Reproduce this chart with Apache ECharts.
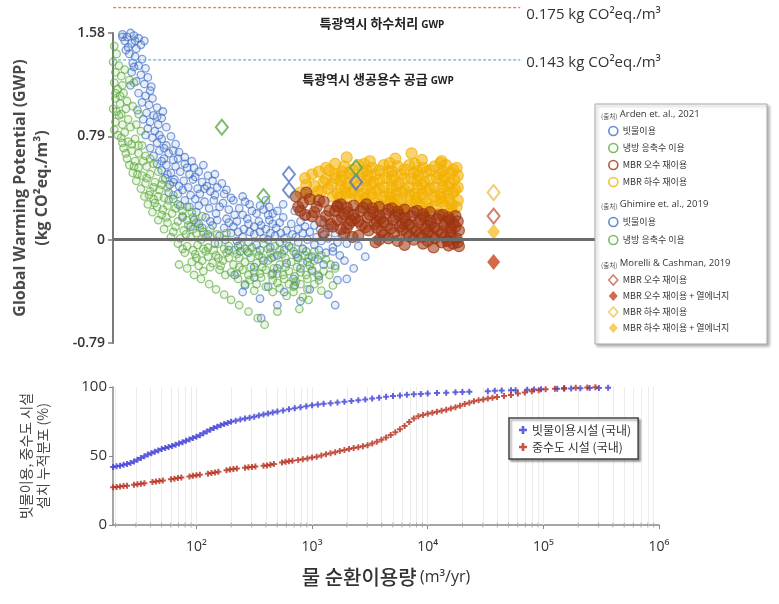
<!DOCTYPE html>
<html>
<head>
<meta charset="utf-8">
<script src="https://cdn.jsdelivr.net/npm/echarts@6/dist/echarts.min.js"></script>
<style>
html,body{margin:0;padding:0;background:#fff}
#chart{width:779px;height:604px}
</style>
</head>
<body>
<div id="chart"></div>
<script>
const FONT = "'Open Sans','Noto Sans CJK KR',sans-serif";
const KFONT = "'Noto Sans CJK KR','Open Sans',sans-serif";

// Shared flow range of both panels (m3/yr)
const qMin = 19;
const qMax = 1e6;
const gwpMin = -0.79, gwpMax = 1.58, gwpStep = 0.79;

// Arden et al. 2021 — each point is [log10 flow (m3/yr), GWP (kg CO2eq./m3)]
const ardenRain = [
[1.36,1.57],[1.40,1.55],[1.43,1.58],[1.46,1.56],[1.50,1.54],[1.38,1.52],[1.44,1.50],[1.52,1.49],[1.48,1.46],[1.41,1.47],[1.55,1.52],[1.39,1.45],[1.47,1.52],[1.36,1.55],
[1.42,1.42],[1.47,1.40],[1.53,1.38],[1.45,1.35],[1.50,1.33],[1.56,1.31],[1.44,1.28],[1.52,1.26],[1.58,1.24],[1.48,1.21],[1.55,1.19],[1.61,1.17],[1.43,1.18],[1.46,1.32],[1.60,1.14],
[1.50,1.12],[1.56,1.10],[1.62,1.08],[1.53,1.05],[1.59,1.03],[1.66,1.01],[1.49,0.99],[1.57,0.97],[1.63,0.95],[1.70,0.93],[1.54,0.92],[1.60,0.90],[1.67,0.88],[1.74,0.86],[1.58,0.85],[1.64,0.83],[1.66,0.94],[1.71,0.98],
[1.56,0.80],[1.62,0.78],[1.70,0.77],[1.78,0.79],[1.66,0.74],[1.74,0.72],[1.82,0.73],[1.60,0.70],[1.68,0.68],[1.76,0.66],[1.85,0.67],[1.63,0.64],[1.72,0.62],[1.80,0.61],[1.90,0.63],[1.68,0.80],[1.72,0.70],[1.80,0.68],
[1.66,0.58],[1.74,0.57],[1.82,0.56],[1.90,0.58],[1.98,0.55],[1.70,0.53],[1.78,0.51],[1.86,0.52],[1.94,0.50],[2.02,0.52],[2.10,0.49],[1.73,0.47],[1.81,0.46],[1.89,0.45],[1.97,0.46],[2.05,0.44],[2.14,0.45],[1.77,0.42],[1.85,0.41],[1.93,0.40],[2.01,0.39],[2.09,0.41],[2.18,0.40],[1.88,0.38],[2.12,0.37],
[1.70,0.60],[1.84,0.62],[1.96,0.60],[1.92,0.55],[2.06,0.57],[1.75,0.50],[1.99,0.48],[2.16,0.50],[2.22,0.43],[1.80,0.44],[2.07,0.39],[2.26,0.38],
[1.76,0.36],[1.84,0.35],[1.95,0.34],[2.03,0.35],[2.16,0.34],[2.24,0.35],[1.80,0.31],[1.90,0.30],[1.99,0.31],[2.07,0.29],[2.15,0.30],[2.23,0.28],[2.32,0.30],[2.42,0.29],[1.86,0.26],[1.94,0.25],[2.02,0.26],[2.11,0.24],[2.20,0.25],[2.28,0.23],[2.37,0.24],[2.48,0.22],[2.58,0.23],[2.00,0.21],[2.17,0.20],[2.33,0.19],[2.52,0.20],[2.60,0.30],[2.75,0.27],[2.85,0.22],[2.95,0.18],[2.66,0.20],
[2.30,0.32],[2.40,0.33],[2.46,0.27],[2.55,0.26],[2.63,0.25],[2.70,0.22],[2.40,0.19],[2.62,0.19],[2.75,0.17],
[1.88,0.17],[1.98,0.15],[2.08,0.17],[2.18,0.15],[2.26,0.16],[2.35,0.14],[2.44,0.16],[2.54,0.14],[2.63,0.15],[2.72,0.13],[2.90,0.14],[3.10,0.13],[1.95,0.10],[2.05,0.09],[2.14,0.11],[2.24,0.09],[2.32,0.10],[2.41,0.08],[2.50,0.10],[2.60,0.08],[2.69,0.09],[2.78,0.07],[2.88,0.08],[2.98,0.06],[3.07,0.08],[3.20,0.05],
[2.82,0.12],[2.94,0.10],[3.02,0.11],[3.15,0.09],[2.45,0.12],[2.56,0.11],[2.66,0.12],[2.28,0.13],[2.12,0.14],[2.02,0.12],
[2.10,0.04],[2.20,0.03],[2.30,0.05],[2.40,0.02],[2.50,0.04],[2.58,0.01],[2.68,0.03],[2.76,0.01],[2.86,0.02],[2.96,0.00],[3.04,0.02],[3.14,0.01],[3.26,0.03],
[2.36,0.06],[2.46,0.06],[2.55,0.06],[2.64,0.05],[2.73,0.05],[2.83,0.04],[2.92,0.05],[3.10,0.04],[2.25,0.00],[2.35,-0.01],[2.45,-0.02],[2.62,0.00],[2.72,-0.02],[2.88,-0.02],[3.08,-0.01],[3.22,-0.02],
[2.16,-0.03],[2.36,-0.05],[2.52,-0.04],[2.64,-0.06],[2.80,-0.05],[2.92,-0.07],[3.02,-0.04],[3.18,-0.06],[3.30,-0.03],[2.45,-0.10],[2.70,-0.12],[2.86,-0.11],[3.00,-0.13],[3.12,-0.10],[3.24,-0.12],[2.58,-0.16],[2.78,-0.18],[2.96,-0.17],[3.10,-0.19],[3.28,-0.16],[2.90,-0.22],
[2.28,-0.08],[2.38,-0.09],[2.55,-0.08],[2.76,-0.08],[2.95,-0.09],[3.06,-0.08],[3.18,-0.09],[2.65,-0.14],[2.88,-0.14],[3.05,-0.15],[3.20,-0.20],[2.70,-0.22],[2.50,-0.21],[3.00,-0.24],
[2.33,-0.27],[2.50,-0.29],[2.66,-0.26],[2.84,-0.30],[3.06,-0.28],[3.22,-0.31],[2.42,-0.35],[2.62,-0.36],[2.76,-0.40],[2.98,-0.38],[3.14,-0.42],[2.55,-0.45],[2.90,-0.47],[2.70,-0.50],[2.56,-0.60],[3.40,-0.05],[3.46,-0.13],[3.36,-0.22],[3.20,-0.50],[2.40,-0.40],[2.85,-0.35],[3.30,-0.30]
];
const ardenCond = [
[1.29,1.48],[1.31,1.42],[1.28,1.36],[1.33,1.33],[1.30,1.28],[1.35,1.25],[1.29,1.20],[1.32,1.15],[1.37,1.12],[1.30,1.08],[1.34,1.04],[1.28,1.00],[1.39,1.00],[1.33,0.95],[1.30,0.90],[1.36,0.88],[1.41,0.92],[1.29,0.84],
[1.30,1.12],[1.34,1.10],[1.31,0.98],[1.35,0.96],[1.32,0.80],[1.36,0.74],[1.39,0.66],[1.44,0.73],[1.50,0.72],
[1.40,1.06],[1.45,1.02],[1.38,0.82],[1.43,0.86],[1.48,0.88],[1.52,0.83],[1.35,0.78],[1.41,0.75],[1.47,0.77],[1.53,0.72],[1.37,0.70],[1.44,0.68],[1.50,0.66],[1.56,0.64],[1.40,0.62],[1.47,0.60],[1.46,1.20],[1.50,0.96],[1.38,1.30],[1.42,1.22],[1.36,1.18],
[1.42,0.57],[1.50,0.55],[1.57,0.56],[1.63,0.58],[1.45,0.51],[1.53,0.49],[1.60,0.50],[1.67,0.52],[1.48,0.45],[1.56,0.43],[1.64,0.44],[1.71,0.46],[1.52,0.39],[1.60,0.37],[1.68,0.38],[1.75,0.40],[1.55,0.33],[1.63,0.31],[1.72,0.32],[1.80,0.34],
[1.46,0.56],[1.54,0.60],[1.60,0.62],[1.49,0.50],[1.57,0.47],[1.63,0.40],[1.70,0.42],[1.59,0.34],[1.67,0.33],[1.76,0.30],
[1.58,0.27],[1.66,0.25],[1.75,0.26],[1.84,0.27],[1.62,0.21],[1.70,0.19],[1.79,0.20],[1.88,0.22],[1.96,0.21],[1.67,0.15],[1.75,0.13],[1.84,0.14],[1.92,0.15],[2.00,0.13],[1.72,0.08],[1.80,0.06],[1.89,0.07],[1.97,0.08],[2.06,0.06],[1.78,0.02],[1.86,0.01],[1.95,0.02],[2.04,0.00],[2.12,0.02],
[1.64,0.28],[1.71,0.23],[1.82,0.24],[1.92,0.25],[1.74,0.17],[1.88,0.18],[1.97,0.17],[2.05,0.18],[1.82,0.10],[1.93,0.11],[2.03,0.09],[2.12,0.08],[1.91,0.04],[2.00,0.05],[2.08,0.02],[2.18,0.04],[2.26,0.05],
[1.84,-0.03],[1.92,-0.05],[2.01,-0.04],[2.10,-0.06],[2.19,-0.03],[2.28,-0.05],[2.38,-0.04],[2.48,-0.06],[2.58,-0.03],[2.68,-0.05],[2.78,-0.02],[1.90,-0.10],[1.99,-0.11],[2.08,-0.09],[2.17,-0.12],[2.26,-0.10],[2.35,-0.11],[2.44,-0.09],[2.54,-0.12],[2.64,-0.10],[2.74,-0.11],[2.84,-0.09],[2.94,-0.12],
[1.88,-0.07],[1.97,-0.08],[2.06,-0.07],[2.15,-0.08],[2.24,-0.07],[2.33,-0.08],[2.42,-0.07],[2.52,-0.09],[2.62,-0.07],[2.72,-0.08],[2.82,-0.06],[2.92,-0.07],[3.02,-0.09],
[2.00,-0.14],[2.10,-0.13],[2.19,-0.14],[2.28,-0.14],[2.37,-0.14],[2.47,-0.14],[2.57,-0.14],[2.67,-0.13],[2.77,-0.14],[2.87,-0.13],[2.97,-0.14],[3.08,-0.12],
[1.96,-0.17],[2.05,-0.16],[2.14,-0.18],[2.23,-0.16],[2.32,-0.19],[2.42,-0.17],[2.52,-0.18],[2.62,-0.16],[2.72,-0.19],[2.82,-0.17],[2.92,-0.18],[3.02,-0.16],[3.12,-0.15],
[2.02,-0.20],[2.12,-0.21],[2.21,-0.20],[2.37,-0.21],[2.47,-0.21],[2.57,-0.21],[2.67,-0.22],[2.77,-0.21],[2.87,-0.21],[2.98,-0.20],[3.16,-0.19],
[2.06,-0.24],[2.20,-0.23],[2.30,-0.25],[2.40,-0.23],[2.50,-0.25],[2.60,-0.23],[2.70,-0.26],[2.80,-0.24],[2.90,-0.25],[3.00,-0.23],[3.10,-0.24],[3.20,-0.22],
[2.25,-0.27],[2.35,-0.26],[2.45,-0.27],[2.55,-0.26],[2.65,-0.27],[2.75,-0.27],[2.85,-0.28],[2.95,-0.27],[3.05,-0.27],[3.15,-0.27],
[2.36,-0.30],[2.46,-0.31],[2.56,-0.29],[2.66,-0.31],[2.76,-0.30],[2.86,-0.32],[2.96,-0.30],[3.06,-0.31],[2.60,-0.36],[2.72,-0.37],[2.84,-0.36],[2.96,-0.38],[3.18,-0.35],[2.78,-0.43],[2.92,-0.44],
[2.42,-0.34],[2.52,-0.34],[2.70,-0.33],[2.80,-0.34],[2.90,-0.34],[3.02,-0.34],[2.66,-0.40],[2.84,-0.40],[3.08,-0.39],[2.50,-0.39],
[1.85,-0.19],[1.98,-0.27],[2.11,-0.34],[2.24,-0.42],[2.37,-0.50],[2.53,-0.60],[2.59,-0.65],[2.89,-0.53],[2.97,-0.46],[2.70,-0.55],[1.92,-0.22],[2.04,-0.30],[2.17,-0.38],[2.30,-0.46],[2.45,-0.55]
];
const ardenGrey = [
[3.50,0.60],[3.72,0.62],[3.95,0.61],[4.12,0.60],[3.30,0.63],[3.86,0.66],
[3.45,0.58],[3.67,0.585],[3.89,0.58],[4.11,0.585],
[3.28,0.56],[3.40,0.57],[3.52,0.55],[3.62,0.57],[3.74,0.56],[3.84,0.57],[3.96,0.55],[4.06,0.56],[4.16,0.57],[4.25,0.55],
[3.35,0.535],[3.58,0.53],[3.80,0.535],[4.02,0.53],[4.22,0.535],[3.15,0.53],[3.26,0.52],[3.47,0.53],[3.69,0.525],[3.91,0.525],[4.13,0.525],
[3.06,0.52],[3.20,0.50],[3.32,0.51],[3.44,0.52],[3.55,0.50],[3.66,0.52],[3.77,0.50],[3.88,0.51],[3.99,0.52],[4.10,0.50],[4.20,0.51],[4.26,0.49],
[3.26,0.485],[3.48,0.49],[3.70,0.485],[3.92,0.49],[4.14,0.485],
[2.94,0.47],[3.12,0.46],[3.25,0.45],[3.36,0.47],[3.47,0.45],[3.58,0.46],[3.69,0.45],[3.80,0.47],[3.91,0.45],[4.02,0.46],[4.13,0.45],[4.23,0.46],
[3.20,0.47],[3.42,0.465],[3.64,0.47],[3.86,0.465],[4.08,0.47],
[3.10,0.44],[3.31,0.43],[3.53,0.44],[3.75,0.43],[3.97,0.44],[4.19,0.43],
[3.02,0.41],[3.17,0.42],[3.29,0.40],[3.40,0.41],[3.51,0.42],[3.62,0.40],[3.73,0.41],[3.84,0.40],[3.95,0.42],[4.06,0.40],[4.17,0.41],[4.26,0.40],
[3.25,0.40],[3.47,0.395],[3.69,0.40],[3.91,0.395],[4.13,0.40],
[3.14,0.39],[3.36,0.38],[3.58,0.39],[3.80,0.38],[4.02,0.39],[4.24,0.38],
[2.90,0.36],[3.08,0.37],[3.22,0.35],[3.34,0.36],[3.45,0.35],[3.56,0.37],[3.67,0.35],[3.78,0.36],[3.89,0.35],[4.00,0.37],[4.11,0.35],[4.22,0.36],
[3.29,0.355],[3.51,0.35],[3.73,0.355],[3.95,0.35],[4.17,0.355],
[3.18,0.33],[3.40,0.34],[3.62,0.33],[3.84,0.34],[4.06,0.33],
[3.24,0.32],[3.46,0.315],[3.68,0.32],[3.90,0.315],[4.12,0.32],
[3.30,0.31],[3.41,0.30],[3.52,0.32],[3.63,0.30],[3.74,0.31],[3.85,0.30],[3.96,0.32],[4.07,0.30],[4.18,0.31],[4.26,0.30],
[3.46,0.28],[3.68,0.29],[3.90,0.28],[4.12,0.29],
[3.55,0.275],[3.77,0.27],[3.99,0.275],[4.21,0.27],
[3.60,0.26],[3.71,0.27],[3.82,0.25],[3.93,0.26],[4.04,0.25],[4.15,0.26],[4.25,0.25],
[3.78,0.23],[4.00,0.235],[4.20,0.23],[3.98,0.21],[4.10,0.20],[4.21,0.21],
[2.95,0.42],[3.00,0.50],[2.98,0.33],[3.05,0.37],[3.12,0.55],[3.20,0.58]
];
const ardenBlack = [
[2.86,0.33],[2.92,0.28],[2.98,0.31],[3.04,0.25],[2.90,0.22],[3.10,0.29],[3.00,0.18],[3.15,0.22],[3.08,0.14],[2.95,0.36],[3.22,0.26],[3.18,0.10],[3.28,0.05],[3.40,0.03],[3.55,-0.02],
[2.88,0.25],[2.94,0.19],[3.02,0.21],[3.12,0.18],[3.06,0.30],[3.16,0.12],[3.22,0.15],[3.30,0.09],
[3.25,0.27],[3.36,0.26],[3.47,0.27],[3.58,0.25],[3.69,0.24],[3.80,0.23],[3.91,0.22],[4.02,0.21],[4.13,0.19],[4.24,0.18],
[3.22,0.25],[3.44,0.245],[3.66,0.23],[3.88,0.21],[4.10,0.185],
[3.30,0.245],[3.52,0.24],[3.74,0.215],[3.96,0.195],[4.18,0.17],
[3.20,0.22],[3.31,0.21],[3.42,0.22],[3.53,0.21],[3.64,0.20],[3.75,0.19],[3.86,0.18],[3.97,0.17],[4.08,0.16],[4.19,0.15],[4.26,0.14],
[3.28,0.195],[3.50,0.19],[3.72,0.175],[3.94,0.155],[4.16,0.135],
[3.36,0.19],[3.58,0.185],[3.80,0.165],[4.02,0.145],[4.22,0.125],
[3.26,0.17],[3.37,0.16],[3.48,0.17],[3.59,0.16],[3.70,0.15],[3.81,0.14],[3.92,0.13],[4.03,0.12],[4.14,0.11],[4.24,0.10],
[3.34,0.145],[3.56,0.14],[3.78,0.125],[4.00,0.105],[4.20,0.09],
[3.40,0.14],[3.62,0.135],[3.84,0.115],[4.06,0.095],
[3.32,0.12],[3.43,0.11],[3.54,0.12],[3.65,0.11],[3.76,0.10],[3.87,0.09],[3.98,0.08],[4.09,0.07],[4.20,0.06],[4.27,0.07],
[3.46,0.095],[3.68,0.085],[3.90,0.07],[4.12,0.05],
[3.56,0.09],[3.78,0.075],[4.00,0.055],[4.20,0.035],
[3.49,0.07],[3.60,0.06],[3.71,0.05],[3.82,0.05],[3.93,0.04],[4.04,0.03],[4.15,0.02],[4.25,0.01],
[3.62,0.035],[3.84,0.025],[4.06,0.01],[4.26,-0.02],
[3.66,0.01],[3.88,0.00],[4.00,-0.01],[4.12,-0.02],[4.22,-0.03],[4.27,-0.05],[3.95,0.02],[4.17,-0.01],
[3.74,-0.01],[3.96,-0.03],[4.18,-0.045],
[3.10,0.05],[3.35,0.02],[3.58,0.00],[3.80,-0.04],[4.05,-0.06],[3.25,0.08]
];

// Ghimire et al. 2019
const ghimireRain = [[2.80,0.50],[2.80,0.38],[3.38,0.44]];
const ghimireCond = [[2.22,0.86],[2.58,0.33],[3.38,0.55]];

// Morelli & Cashman 2019 (single flow, one GWP per scenario)
const morelliLogQ = 4.57;
const morelliBlack = 0.18;
const morelliBlackHeat = -0.17;
const morelliGrey = 0.36;
const morelliGreyHeat = 0.06;

// Reference GWP of metropolitan sewage treatment and water supply
const refSewage = 0.175;
const refSupply = 0.143;
const refLogQSpan = [1.28, 4.80];

// Cumulative share of domestic facilities
const rainFacLogQ = [1.28,1.31,1.34,1.37,1.40,1.43,1.46,1.49,1.52,1.55,1.58,1.61,1.64,1.67,1.70,1.73,1.76,1.79,1.82,1.85,1.88,1.91,1.94,1.97,2.00,2.03,2.06,2.09,2.12,2.15,2.18,2.21,2.24,2.27,2.30,2.34,2.38,2.42,2.46,2.50,2.54,2.58,2.62,2.66,2.70,2.75,2.80,2.85,2.90,2.95,3.00,3.05,3.10,3.16,3.22,3.28,3.34,3.40,3.46,3.52,3.58,3.64,3.70,3.76,3.82,3.88,3.94,4.00,4.08,4.16,4.24,4.30,4.36,4.52,4.58,4.64,4.72,4.76,4.86,4.92,4.98,5.12,5.18,5.24,5.32,5.40,5.48,5.56];
const rainFacPct = [42,42.5,43,43.6,44.2,45,46,47.3,48.5,49.8,51,52,53,54,55,55.8,56.6,57.3,58.2,59,60,61,62,63,64,65,66.4,67.8,69,70.2,71.2,72.2,73.2,74,74.8,75.6,76.4,77.2,77.8,78.5,79.3,80,80.8,81.5,82.2,83,83.8,84.6,85.3,86,86.7,87.3,87.8,88.3,88.8,89.3,89.8,90.4,91,91.6,92.3,92.9,93.4,93.9,94.3,94.7,95,95.3,95.6,95.9,96.2,96.4,96.6,97,97.2,97.4,97.6,97.7,98,98.2,98.4,98.7,98.8,98.9,99.1,99.2,99.3,99.4];
const greyFacLogQ = [1.28,1.31,1.34,1.37,1.40,1.46,1.49,1.52,1.55,1.62,1.65,1.68,1.71,1.78,1.81,1.84,1.87,1.94,1.97,2.00,2.03,2.10,2.13,2.16,2.19,2.26,2.29,2.32,2.35,2.42,2.45,2.48,2.51,2.58,2.61,2.64,2.67,2.74,2.77,2.80,2.83,2.88,2.92,2.96,3.00,3.04,3.08,3.12,3.16,3.20,3.24,3.28,3.32,3.36,3.40,3.44,3.48,3.52,3.56,3.60,3.64,3.68,3.72,3.76,3.80,3.84,3.88,3.92,3.96,4.00,4.04,4.08,4.12,4.16,4.20,4.24,4.28,4.32,4.36,4.40,4.44,4.48,4.52,4.56,4.60,4.66,4.72,4.78,4.84,4.90,4.96,5.02,5.10,5.18,5.28,5.38,5.45];
const greyFacPct = [27.3,27.6,27.9,28.2,28.5,29.1,29.5,29.9,30.3,31.1,31.5,31.9,32.3,33.2,33.6,34,34.4,35.2,35.6,36,36.4,37.2,37.6,38,38.5,39.7,40.2,40.6,40.9,41.5,41.8,42.1,42.4,42.9,43.2,43.7,44.2,45.3,45.8,46.2,46.6,47.1,47.6,48.2,48.9,49.5,50.4,51.2,52,52.8,53.6,54.4,55.1,55.8,56.4,57,57.8,59,60.4,61.8,63.4,65.2,67.2,69.4,71.8,74.6,77.2,78.8,79.8,80.6,81.3,82,82.7,83.5,84.4,85.4,86.5,87.6,88.6,89.6,90.4,91,91.7,92.3,92.8,93.5,94.2,95.2,96.1,96.9,97.7,98.3,98.8,99.2,99.5,99.7,99.8];

// Log-axis decoration: minor ticks at 2..9 x 10^n
const minorMantissas = [2,3,4,5,6,7,8,9];
const decades = [1,2,3,4,5];

const toQ = lq => Math.pow(10, lq);
const cloud = arr => arr.map(([lq, g]) => [toQ(lq), g]);
const curve = (lqs, pcts) => lqs.map((lq, i) => [toQ(lq), pcts[i]]);
const minorTicks = [];
const gridTicks = [];
decades.forEach(n => {
  [1].concat(minorMantissas).forEach(m => {
    const v = m * Math.pow(10, n);
    if (v > qMin && v < qMax) {
      gridTicks.push(v);
      if (m > 1) minorTicks.push(v);
    }
  });
});

const C = {
  blue: '#3d6cc6', green: '#5aaa3a', brown: '#9e3510', yellow: '#f2b000',
  brownOpen: '#c9604a', brownFill: '#c8461a', yellowOpen: '#f0c24a', yellowFill: '#f5c232',
  plusBlue: '#3b3bd6', plusRed: '#b52a1a'
};
const PLUS = 'path://M2,0H4V2H6V4H4V6H2V4H0V2H2Z';

const ring = (color, fillAlpha, strokeAlpha, width) => ({
  color: echarts.color.modifyAlpha(color, fillAlpha),
  borderColor: echarts.color.modifyAlpha(color, strokeAlpha),
  borderWidth: width
});

const chart = echarts.init(document.getElementById('chart'), null, {renderer: 'canvas'});

const legendText = {color: '#333', fontSize: 9, fontFamily: KFONT, lineHeight: 12};
const stripSource = name => name.replace(/^\S+ /, '');
const openIcon = c => ({color: '#fff', borderColor: c, borderWidth: 1.6});
const annotRich = {g: {fontSize: 10, fontWeight: 'bold', fontFamily: FONT, fill: '#222', verticalAlign: 'bottom', lineHeight: 16, padding: [0, 0, 1, 0]}};

const option = {
  animation: false,
  backgroundColor: '#fff',
  grid: [
    {left: 113, right: 120, top: 33, height: 310},
    {left: 113, right: 120, top: 387, height: 138},
    {left: 113, right: 120, top: 7.5, height: 52.5}
  ],
  xAxis: [
    {type: 'log', gridIndex: 0, min: qMin, max: qMax, show: false},
    {
      type: 'log', gridIndex: 1, min: qMin, max: qMax,
      axisLine: {lineStyle: {color: '#888', width: 1.5}},
      axisTick: {length: 4, lineStyle: {color: '#888'}},
      splitLine: {show: false},
      axisLabel: {
        margin: 15, color: '#333', fontFamily: FONT, fontSize: 14, showMinLabel: false,
        formatter: v => {
          const e = Math.log10(v);
          if (Math.abs(e - Math.round(e)) > 1e-6) return '';
          return '10' + '⁰¹²³⁴⁵⁶⁷⁸⁹'[Math.round(e)];
        }
      },
      name: '{a|물 순환이용량} {b|(m³/yr)}',
      nameLocation: 'middle', nameGap: 42,
      nameTextStyle: {rich: {
        a: {fontSize: 20, fontFamily: KFONT, color: '#333', fontWeight: 500},
        b: {fontSize: 16, fontFamily: FONT, color: '#333', fontWeight: 500}
      }}
    },
    {type: 'log', gridIndex: 2, min: qMin, max: qMax, show: false}
  ],
  yAxis: [
    {
      type: 'value', gridIndex: 0, min: gwpMin, max: gwpMax, interval: gwpStep,
      axisLine: {show: true, lineStyle: {color: '#7a7a7a', width: 2}},
      axisTick: {show: true, length: 5, lineStyle: {color: '#7a7a7a', width: 1.5}},
      splitLine: {show: false},
      axisLabel: {
        margin: 8, color: '#333', fontFamily: FONT, fontSize: 14, fontWeight: 600,
        formatter: v => Math.abs(v) < 1e-9 ? '0' : v.toFixed(2)
      },
      name: 'Global Warming Potential (GWP)\n(kg CO²eq./m³)',
      nameLocation: 'middle', nameRotate: 90, nameGap: 60,
      nameTextStyle: {fontSize: 16, fontWeight: 'bold', color: '#4a4a4a', fontFamily: FONT, lineHeight: 22}
    },
    {
      type: 'value', gridIndex: 1, min: 0, max: 100, interval: 50,
      axisLine: {show: true, lineStyle: {color: '#888', width: 1.5}},
      axisTick: {show: true, length: 4, lineStyle: {color: '#888'}},
      splitLine: {show: false},
      axisLabel: {margin: 6, color: '#333', fontFamily: FONT, fontSize: 15},
      name: '빗물이용, 중수도 시설\n설치 누적분포 (%)',
      nameLocation: 'middle', nameRotate: 90, nameGap: 62,
      nameTextStyle: {fontSize: 14, color: '#444', fontFamily: KFONT, lineHeight: 17}
    },
    {type: 'value', gridIndex: 2, min: refSupply, max: refSewage, show: false}
  ],
  legend: [
    {
      left: 608, top: 125, orient: 'vertical', itemGap: 5, itemWidth: 9, itemHeight: 9, padding: 0,
      selectedMode: false, z: 11, textStyle: legendText, formatter: stripSource,
      data: [
        {name: 'Arden 빗물이용', icon: 'circle', itemStyle: openIcon(C.blue)},
        {name: 'Arden 냉방 응축수 이용', icon: 'circle', itemStyle: openIcon(C.green)},
        {name: 'Arden MBR 오수 재이용', icon: 'circle', itemStyle: openIcon(C.brown)},
        {name: 'Arden MBR 하수 재이용', icon: 'circle', itemStyle: openIcon(C.yellow)}
      ]
    },
    {
      left: 608, top: 216, orient: 'vertical', itemGap: 6, itemWidth: 9, itemHeight: 9, padding: 0,
      selectedMode: false, z: 11, textStyle: legendText, formatter: stripSource,
      data: [
        {name: 'Ghimire 빗물이용', icon: 'circle', itemStyle: openIcon(C.blue)},
        {name: 'Ghimire 냉방 응축수 이용', icon: 'circle', itemStyle: openIcon(C.green)}
      ]
    },
    {
      left: 608, top: 274, orient: 'vertical', itemGap: 4, itemWidth: 9, itemHeight: 10, padding: 0,
      selectedMode: false, z: 11, textStyle: legendText, formatter: stripSource,
      data: [
        {name: 'Morelli MBR 오수 재이용', icon: 'diamond', itemStyle: openIcon(C.brownOpen)},
        {name: 'Morelli MBR 오수 재이용 + 열에너지', icon: 'diamond', itemStyle: {color: C.brownFill}},
        {name: 'Morelli MBR 하수 재이용', icon: 'diamond', itemStyle: openIcon(C.yellowOpen)},
        {name: 'Morelli MBR 하수 재이용 + 열에너지', icon: 'diamond', itemStyle: {color: C.yellowFill}}
      ]
    },
    {
      left: 509, top: 418, orient: 'vertical', itemGap: 3, itemWidth: 8, itemHeight: 8,
      padding: [5, 7, 5, 10], selectedMode: false, z: 11,
      backgroundColor: '#fff', borderColor: '#444', borderWidth: 1.5,
      shadowColor: 'rgba(0,0,0,0.35)', shadowBlur: 2, shadowOffsetX: 2, shadowOffsetY: 2,
      textStyle: {color: '#333', fontSize: 12, fontFamily: KFONT, lineHeight: 14},
      data: [
        {name: '빗물이용시설 (국내)', icon: PLUS, itemStyle: {color: C.plusBlue}},
        {name: '중수도 시설 (국내)', icon: PLUS, itemStyle: {color: C.plusRed}}
      ]
    }
  ],
  graphic: [
    {
      type: 'rect', z: 10, silent: true,
      shape: {x: 595, y: 104, width: 172, height: 240},
      style: {fill: '#fff', stroke: '#aaa', lineWidth: 1, shadowColor: 'rgba(0,0,0,0.3)', shadowBlur: 3, shadowOffsetX: 2, shadowOffsetY: 2}
    },
    ...[['Arden et. al., 2021', 114], ['Ghimire et. al., 2019', 204], ['Morelli & Cashman, 2019', 263]].map(([t, y]) => ({
      type: 'text', z: 12, silent: true, x: 601, y: y,
      style: {
        text: '{s|(출처)} ' + t, verticalAlign: 'middle', fill: '#333',
        rich: {s: {fontSize: 6.5, fontFamily: KFONT, fill: '#444', verticalAlign: 'bottom', lineHeight: 12}},
        fontSize: 9.5, fontFamily: FONT, lineHeight: 12
      }
    })),
    {
      type: 'text', z: 12, silent: true, x: 382, y: 23,
      style: {
        text: '특광역시 하수처리 {g|GWP}', align: 'center', verticalAlign: 'middle',
        fontSize: 13, fontWeight: 'bold', fontFamily: KFONT, fill: '#222', lineHeight: 16,
        rich: annotRich
      }
    },
    {
      type: 'text', z: 12, silent: true, x: 378, y: 79,
      style: {
        text: '특광역시 생공용수 공급 {g|GWP}', align: 'center', verticalAlign: 'middle',
        fontSize: 13, fontWeight: 'bold', fontFamily: KFONT, fill: '#222', lineHeight: 16,
        rich: annotRich
      }
    }
  ],
  series: [
    {
      name: 'Arden 빗물이용', type: 'scatter', xAxisIndex: 0, yAxisIndex: 0,
      symbol: 'circle', symbolSize: 7.5, itemStyle: ring(C.blue, 0.15, 0.8, 1.3),
      data: cloud(ardenRain),
      markLine: {
        silent: true, symbol: ['none', 'none'], z: 5,
        label: {show: false},
        lineStyle: {color: '#6b6b6b', width: 3, type: 'solid'},
        data: [{yAxis: 0}]
      }
    },
    {
      name: 'Arden 냉방 응축수 이용', type: 'scatter', xAxisIndex: 0, yAxisIndex: 0,
      symbol: 'circle', symbolSize: 7.5, itemStyle: ring(C.green, 0.15, 0.8, 1.3),
      data: cloud(ardenCond)
    },
    {
      name: 'Arden MBR 하수 재이용', type: 'scatter', xAxisIndex: 0, yAxisIndex: 0,
      symbol: 'circle', symbolSize: 11, itemStyle: ring(C.yellow, 0.7, 0.9, 1.2),
      data: cloud(ardenGrey)
    },
    {
      name: 'Arden MBR 오수 재이용', type: 'scatter', xAxisIndex: 0, yAxisIndex: 0,
      symbol: 'circle', symbolSize: 11, itemStyle: ring(C.brown, 0.7, 0.9, 1.2),
      data: cloud(ardenBlack)
    },
    {
      name: 'Ghimire 빗물이용', type: 'scatter', xAxisIndex: 0, yAxisIndex: 0, z: 3,
      symbol: 'diamond', symbolSize: [12, 15],
      itemStyle: {color: 'rgba(255,255,255,0)', borderColor: '#4a74c9', borderWidth: 2},
      data: cloud(ghimireRain)
    },
    {
      name: 'Ghimire 냉방 응축수 이용', type: 'scatter', xAxisIndex: 0, yAxisIndex: 0, z: 3,
      symbol: 'diamond', symbolSize: [12, 15],
      itemStyle: {color: 'rgba(255,255,255,0)', borderColor: '#5aab46', borderWidth: 2},
      data: cloud(ghimireCond)
    },
    {
      name: 'Morelli MBR 오수 재이용', type: 'scatter', xAxisIndex: 0, yAxisIndex: 0, z: 3,
      symbol: 'diamond', symbolSize: [12, 15],
      itemStyle: {color: '#fff', borderColor: C.brownOpen, borderWidth: 2},
      data: [[toQ(morelliLogQ), morelliBlack]]
    },
    {
      name: 'Morelli MBR 오수 재이용 + 열에너지', type: 'scatter', xAxisIndex: 0, yAxisIndex: 0, z: 3,
      symbol: 'diamond', symbolSize: [13, 16],
      itemStyle: {color: C.brownFill},
      data: [[toQ(morelliLogQ), morelliBlackHeat]]
    },
    {
      name: 'Morelli MBR 하수 재이용', type: 'scatter', xAxisIndex: 0, yAxisIndex: 0, z: 3,
      symbol: 'diamond', symbolSize: [12, 15],
      itemStyle: {color: '#fff', borderColor: C.yellowOpen, borderWidth: 2},
      data: [[toQ(morelliLogQ), morelliGrey]]
    },
    {
      name: 'Morelli MBR 하수 재이용 + 열에너지', type: 'scatter', xAxisIndex: 0, yAxisIndex: 0, z: 3,
      symbol: 'diamond', symbolSize: [13, 16],
      itemStyle: {color: C.yellowFill},
      data: [[toQ(morelliLogQ), morelliGreyHeat]]
    },
    {
      name: 'ref-sewage', type: 'line', xAxisIndex: 2, yAxisIndex: 2, silent: true,
      symbol: 'none', lineStyle: {color: '#f07a5a', width: 1.5, type: [3, 2]},
      data: refLogQSpan.map(lq => [toQ(lq), refSewage]),
      endLabel: {
        show: true, distance: 6, offset: [0, 7], color: '#333', fontSize: 15, fontFamily: FONT,
        formatter: () => refSewage + ' kg CO²eq./m³'
      }
    },
    {
      name: 'ref-supply', type: 'line', xAxisIndex: 2, yAxisIndex: 2, silent: true,
      symbol: 'none', lineStyle: {color: '#6fb3e3', width: 1.5, type: [3, 2]},
      data: refLogQSpan.map(lq => [toQ(lq), refSupply]),
      endLabel: {
        show: true, distance: 6, offset: [0, 3], color: '#333', fontSize: 15, fontFamily: FONT,
        formatter: () => refSupply + ' kg CO²eq./m³'
      }
    },
    {
      name: 'minor-ticks', type: 'scatter', xAxisIndex: 1, yAxisIndex: 1, silent: true,
      symbol: 'rect', symbolSize: [1, 5], itemStyle: {color: '#999'},
      data: minorTicks.map(v => [v, 0]),
      markLine: {
        silent: true, symbol: ['none', 'none'], label: {show: false}, z: 1,
        lineStyle: {color: '#ececec', width: 1, type: 'solid'},
        data: gridTicks.map(v => ({xAxis: v}))
      }
    },
    {
      name: '빗물이용시설 (국내)', type: 'scatter', xAxisIndex: 1, yAxisIndex: 1,
      symbol: PLUS, symbolSize: 6, itemStyle: {color: C.plusBlue},
      data: curve(rainFacLogQ, rainFacPct)
    },
    {
      name: '중수도 시설 (국내)', type: 'scatter', xAxisIndex: 1, yAxisIndex: 1,
      symbol: PLUS, symbolSize: 6, itemStyle: {color: C.plusRed},
      data: curve(greyFacLogQ, greyFacPct)
    }
  ]
};

chart.setOption(option);
</script>
</body>
</html>
